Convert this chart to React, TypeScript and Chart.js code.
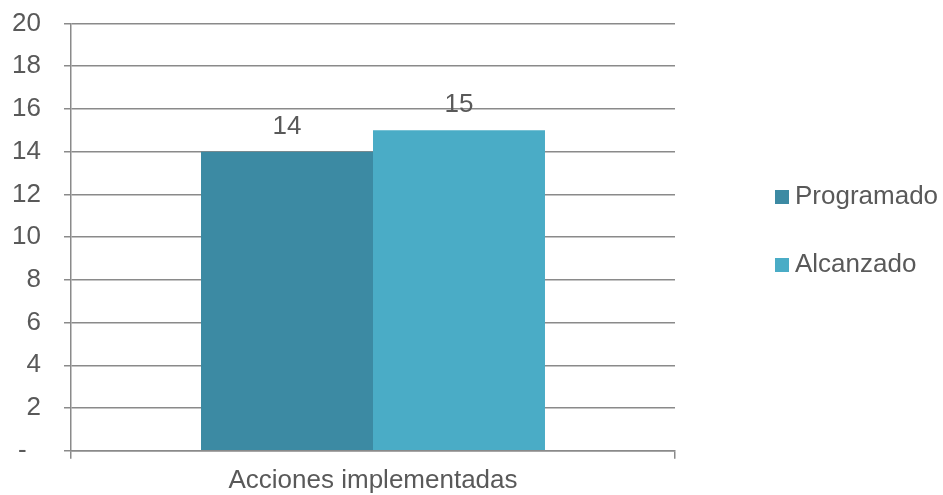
import React, { useEffect, useRef } from "react";
import { Chart, registerables } from "chart.js";

Chart.register(...registerables);

const categories = ["Acciones implementadas"];
const seriesNames = ["Programado", "Alcanzado"];
const programado = [14];
const alcanzado = [15];
const seriesColors = ["#3C8AA3", "#4AACC6"];
const yMin = 0;
const yMax = 20;
const yStep = 2;

const FONT = '"Liberation Sans", Arial, sans-serif';
const FS = 26;
const TEXT = "#595959";
const GRID = "#8a8a8a";

const valueLabels = {
  id: "valueLabels",
  afterDatasetsDraw(chart: any) {
    const ctx = chart.ctx;
    ctx.save();
    ctx.font = `${FS}px ${FONT}`;
    ctx.fillStyle = TEXT;
    ctx.textAlign = "center";
    ctx.textBaseline = "alphabetic";
    chart.data.datasets.forEach((ds: any, i: number) => {
      const meta = chart.getDatasetMeta(i);
      meta.data.forEach((bar: any, j: number) => {
        ctx.fillText(String(ds.data[j]), bar.x, bar.y - 18);
      });
    });
    ctx.restore();
  },
};

const sideLegend = {
  id: "sideLegend",
  afterDraw(chart: any) {
    const ctx = chart.ctx;
    const area = chart.chartArea;
    const x0 = area.right + 100;
    const ys = [197, 265];
    ctx.save();
    ctx.font = `${FS}px ${FONT}`;
    ctx.textAlign = "left";
    ctx.textBaseline = "middle";
    chart.data.datasets.forEach((ds: any, i: number) => {
      const y = ys[i];
      ctx.fillStyle = ds.backgroundColor;
      ctx.fillRect(x0, y - 7, 14, 14);
      ctx.fillStyle = TEXT;
      ctx.fillText(ds.label, x0 + 20, y);
    });
    ctx.restore();
  },
};

export default function App() {
  const ref = useRef<HTMLCanvasElement>(null);
  useEffect(() => {
    if (!ref.current) return;
    const chart = new Chart(ref.current, {
      type: "bar",
      data: {
        labels: categories,
        datasets: [
          { label: seriesNames[0], data: programado, backgroundColor: seriesColors[0] },
          { label: seriesNames[1], data: alcanzado, backgroundColor: seriesColors[1] },
        ],
      },
      options: {
        responsive: false,
        maintainAspectRatio: false,
        animation: false,
        layout: { padding: { left: 0, top: 23.5, right: 268, bottom: 0 } },
        datasets: { bar: { categoryPercentage: 0.5695, barPercentage: 1, borderWidth: 0 } },
        plugins: { legend: { display: false }, tooltip: { enabled: false } },
        scales: {
          x: {
            offset: true,
            grid: { display: true, drawOnChartArea: false, offset: true, color: GRID, lineWidth: 1.5, tickLength: 8 },
            border: { display: true, color: GRID, width: 1.5 },
            ticks: { color: TEXT, font: { family: FONT, size: FS }, padding: 7 },
            afterFit(scale: any) {
              scale.height = 495 - 450.7;
              scale.paddingLeft = 0;
              scale.paddingRight = 0;
            },
          },
          y: {
            min: yMin,
            max: yMax,
            ticks: {
              stepSize: yStep,
              color: TEXT,
              font: { family: FONT, size: FS },
              padding: 23,
              callback: (v: any) => (v === 0 ? "-  " : String(v)),
            },
            grid: { color: GRID, lineWidth: 1.5, tickLength: 7 },
            border: { display: true, color: GRID, width: 1.5 },
            afterFit(scale: any) {
              scale.width = 71;
              scale.paddingTop = 0;
              scale.paddingBottom = 0;
            },
          },
        },
      },
      plugins: [valueLabels, sideLegend],
    });
    return () => chart.destroy();
  }, []);
  return (
    <div style={{ position: "absolute", left: 0, top: 0, width: 943, height: 495, background: "#fff" }}>
      <canvas ref={ref} width={943} height={495} />
    </div>
  );
}
